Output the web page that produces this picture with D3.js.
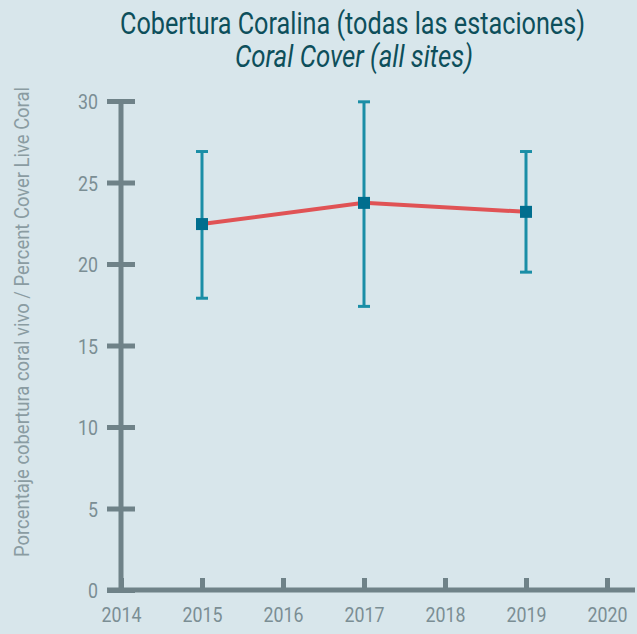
<!DOCTYPE html>
<meta charset="utf-8">
<style>
html, body { margin: 0; padding: 0; background: #d8e6eb; }
svg { display: block; }
.cond { font-family: Roboto, sans-serif; }
.tick text { fill: #7b8e94; font-size: 21px; font-family: Roboto, sans-serif; }
</style>
<svg width="637" height="634"></svg>
<script src="https://d3js.org/d3.v7.min.js"></script>
<script>
var years = [2015, 2017, 2019];
var cover = [22.45, 23.75, 23.2];
var errLow = [17.9, 17.4, 19.5];
var errHigh = [26.9, 29.95, 26.9];
var xTicks = [2014, 2015, 2016, 2017, 2018, 2019, 2020];
var yTicks = [0, 5, 10, 15, 20, 25, 30];

var svg = d3.select("svg");
var axisColor = "#6f8288";

var x = d3.scaleLinear().domain([2014, 2020]).range([121, 607]);
var y = d3.scaleLinear().domain([0, 30]).range([590, 101]);

var data = years.map(function(d, i) {
  return {year: d, v: cover[i], lo: errLow[i], hi: errHigh[i]};
});

// title (condensed look via textLength)
svg.append("text").attr("class", "cond")
  .attr("x", 352.5).attr("y", 34)
  .attr("text-anchor", "middle")
  .attr("textLength", 465).attr("lengthAdjust", "spacingAndGlyphs")
  .style("font-size", "32px").style("fill", "#0d4f5b")
  .text("Cobertura Coralina (todas las estaciones)");
svg.append("text").attr("class", "cond")
  .attr("x", 354).attr("y", 67)
  .attr("text-anchor", "middle")
  .attr("textLength", 238).attr("lengthAdjust", "spacingAndGlyphs")
  .style("font-size", "32px").style("font-style", "italic").style("fill", "#0d4f5b")
  .text("Coral Cover (all sites)");

// y label
svg.append("text").attr("class", "cond")
  .attr("transform", "translate(29,322) rotate(-90)")
  .attr("text-anchor", "middle")
  .attr("textLength", 470).attr("lengthAdjust", "spacingAndGlyphs")
  .style("font-size", "20px").style("fill", "#8a9ca2")
  .text("Porcentaje cobertura coral vivo / Percent Cover Live Coral");

// y axis
var gy = svg.append("g")
  .attr("transform", "translate(121,0)")
  .call(d3.axisLeft(y).tickValues(yTicks).tickSize(0).tickPadding(23));
gy.select(".domain").remove();
gy.selectAll(".tick text").attr("dy", "0.36em")
  .attr("textLength", function(d) { return String(d).length * 10; })
  .attr("lengthAdjust", "spacingAndGlyphs");
gy.selectAll(".tick").append("line")
  .attr("x1", -14).attr("x2", 14)
  .attr("stroke", axisColor).attr("stroke-width", 5);
svg.append("line")
  .attr("x1", 121).attr("x2", 121)
  .attr("y1", y(30) - 2).attr("y2", 592)
  .attr("stroke", axisColor).attr("stroke-width", 5);

// x axis
var gx = svg.append("g")
  .attr("transform", "translate(0,590)")
  .call(d3.axisBottom(x).tickValues(xTicks).tickFormat(d3.format("d")).tickSize(0).tickPadding(17));
gx.select(".domain").remove();
gx.selectAll(".tick text")
  .attr("textLength", 40).attr("lengthAdjust", "spacingAndGlyphs");
gx.selectAll(".tick").append("line")
  .attr("y1", 0).attr("y2", -12)
  .attr("stroke", axisColor).attr("stroke-width", 5);
svg.append("line")
  .attr("x1", 107).attr("x2", 635)
  .attr("y1", 590).attr("y2", 590)
  .attr("stroke", axisColor).attr("stroke-width", 5);

// error bars
var eb = svg.append("g").attr("stroke", "#1a8ea6");
eb.selectAll(".ev").data(data).enter().append("line")
  .attr("x1", function(d) { return x(d.year); })
  .attr("x2", function(d) { return x(d.year); })
  .attr("y1", function(d) { return y(d.hi); })
  .attr("y2", function(d) { return y(d.lo); })
  .attr("stroke-width", 3);
eb.selectAll(".et").data(data).enter().append("line")
  .attr("x1", function(d) { return x(d.year) - 6; })
  .attr("x2", function(d) { return x(d.year) + 6; })
  .attr("y1", function(d) { return y(d.hi); })
  .attr("y2", function(d) { return y(d.hi); })
  .attr("stroke-width", 3);
eb.selectAll(".eb").data(data).enter().append("line")
  .attr("x1", function(d) { return x(d.year) - 6; })
  .attr("x2", function(d) { return x(d.year) + 6; })
  .attr("y1", function(d) { return y(d.lo); })
  .attr("y2", function(d) { return y(d.lo); })
  .attr("stroke-width", 3);

// line
svg.append("path").datum(data)
  .attr("fill", "none").attr("stroke", "#e05355").attr("stroke-width", 4)
  .attr("d", d3.line().x(function(d) { return x(d.year); }).y(function(d) { return y(d.v); }));

// markers
svg.selectAll(".mk").data(data).enter().append("rect")
  .attr("x", function(d) { return x(d.year) - 6; })
  .attr("y", function(d) { return y(d.v) - 6; })
  .attr("width", 12).attr("height", 12)
  .attr("fill", "#006e8e");
</script>
